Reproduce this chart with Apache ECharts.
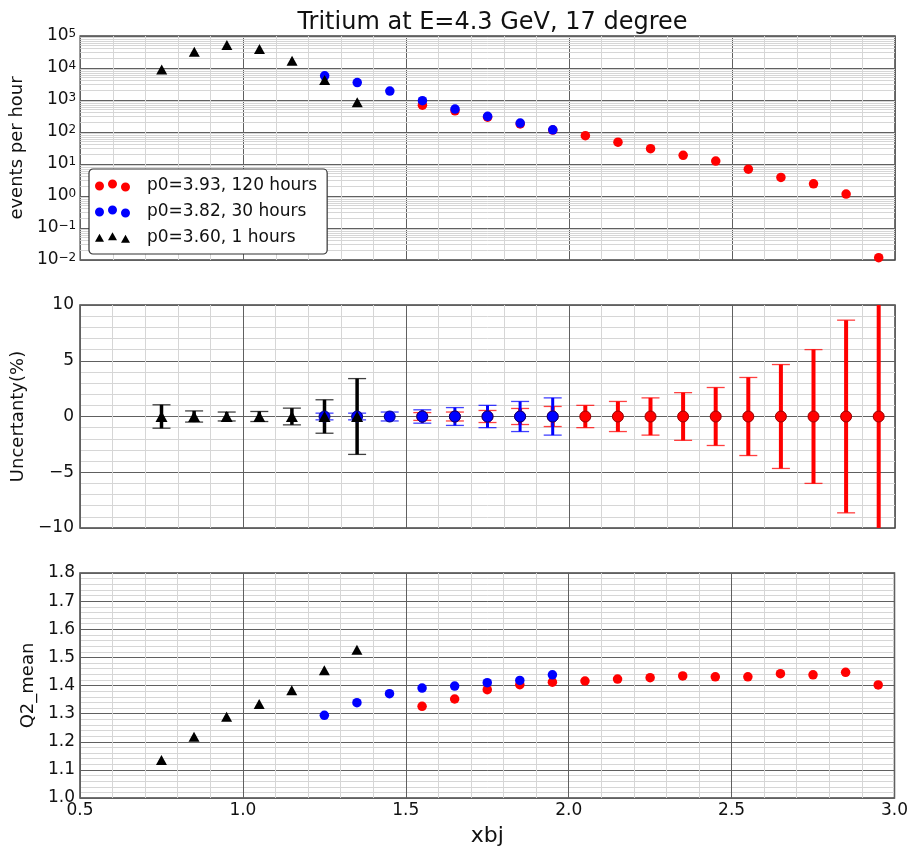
<!DOCTYPE html>
<html>
<head>
<meta charset="utf-8">
<script src="https://cdn.jsdelivr.net/npm/echarts@6/dist/echarts.min.js"></script>
<style>
html, body { margin: 0; padding: 0; background: #fff; }
#chart { width: 911px; height: 851px; }
</style>
</head>
<body>
<div id="chart"></div>
<script>
// xbj bins for each setting
const xBlack = [0.75, 0.85, 0.95, 1.05, 1.15, 1.25, 1.35]
const xBlue = [1.25, 1.35, 1.45, 1.55, 1.65, 1.75, 1.85, 1.95]
const xRed = [1.55, 1.65, 1.75, 1.85, 1.95, 2.05, 2.15, 2.25, 2.35, 2.45, 2.55, 2.65, 2.75, 2.85, 2.95]

// events per hour
const rateBlack = [9000, 32000, 52000, 39000, 17000, 4200, 850]
const rateBlue = [5700, 3500, 1900, 950, 520, 310, 190, 117]
const rateRed = [690, 460, 290, 178, 115, 77, 48, 30, 18.7, 12.3, 6.9, 3.8, 2.4, 1.15, 0.0118]

// relative uncertainty (%)
const errBlack = [1.05, 0.5, 0.4, 0.45, 0.75, 1.5, 3.4]
const errBlue = [0.3, 0.3, 0.4, 0.6, 0.8, 1.0, 1.35, 1.67]
const errRed = [0.35, 0.4, 0.54, 0.72, 0.9, 1.0, 1.35, 1.67, 2.14, 2.6, 3.5, 4.66, 6.0, 8.64, 12]

// mean Q2
const q2Black = [1.135, 1.218, 1.289, 1.334, 1.383, 1.454, 1.527]
const q2Blue = [1.294, 1.339, 1.371, 1.391, 1.398, 1.41, 1.418, 1.438]
const q2Red = [1.326, 1.352, 1.385, 1.403, 1.412, 1.416, 1.423, 1.428, 1.434, 1.431, 1.431, 1.442, 1.438, 1.447, 1.402]

const names = ['p0=3.93, 120 hours', 'p0=3.82, 30 hours', 'p0=3.60, 1 hours']
const RED = '#ff0000'
const BLUE = '#0000ff'
const BLACK = '#000000'
const FONT = 'DejaVu Sans'

const zip = (xs, ys) => xs.map((x, i) => [x, ys[i]])

// matplotlib-like log minor gridlines (2..9 per decade)
const logMinor = []
for (let e = -2; e < 5; e++) {
  for (let k = 2; k <= 9; k++) logMinor.push(k * Math.pow(10, e))
}

const chart = echarts.init(document.getElementById('chart'))

const majorLine = { show: true, lineStyle: { color: '#606060', width: 1 } }
const minorLine = { show: true, lineStyle: { color: '#d6d6d6', width: 1 } }
const labelStyle = { fontFamily: FONT, fontSize: 17, color: '#111' }
const nameStyle = { fontFamily: FONT, fontSize: 18, color: '#111' }

const makeX = (idx, showLabel) => ({
  type: 'value',
  gridIndex: idx,
  min: 0.5,
  max: 3.0,
  interval: 0.5,
  axisLine: { show: false },
  axisTick: { show: false },
  splitLine: majorLine,
  minorTick: { show: false, splitNumber: 5 },
  minorSplitLine: minorLine,
  axisLabel: {
    show: showLabel,
    ...labelStyle,
    margin: 4,
    formatter: v => v.toFixed(1)
  },
  name: showLabel ? 'xbj' : '',
  nameLocation: 'middle',
  nameGap: 27,
  nameTextStyle: { fontFamily: FONT, fontSize: 22, color: '#111' }
})

const circ3 = 'path://M0,7a4.5,4.5 0 1,0 9,0a4.5,4.5 0 1,0 -9,0M13,5a4.5,4.5 0 1,0 9,0a4.5,4.5 0 1,0 -9,0M26,8a4.5,4.5 0 1,0 9,0a4.5,4.5 0 1,0 -9,0'
const tri3 = 'path://M0,12L4.5,4L9,12ZM13,10.5L17.5,2.5L22,10.5ZM26,13L30.5,5L35,13Z'

function errorBars(color, width) {
  return function (params, api) {
    const x = api.value(0)
    const err = api.value(1)
    const hi = api.coord([x, err])
    const lo = api.coord([x, -err])
    const cap = 9
    return {
      type: 'group',
      children: [
        { type: 'line', shape: { x1: hi[0], y1: hi[1], x2: lo[0], y2: lo[1] }, style: { stroke: color, lineWidth: width } },
        { type: 'line', shape: { x1: hi[0] - cap, y1: hi[1], x2: hi[0] + cap, y2: hi[1] }, style: { stroke: color, lineWidth: 1.3, opacity: 0.75 } },
        { type: 'line', shape: { x1: lo[0] - cap, y1: lo[1], x2: lo[0] + cap, y2: lo[1] }, style: { stroke: color, lineWidth: 1.3, opacity: 0.75 } }
      ]
    }
  }
}

const zeros = xs => xs.map(x => [x, 0])

const dot = (color, extra) => ({ color, opacity: 1, ...(extra || {}) })

const option = {
  animation: false,
  backgroundColor: '#fff',
  title: {
    text: 'Tritium at E=4.3 GeV, 17 degree',
    left: 487.5,
    textAlign: 'center',
    top: 6,
    textStyle: { fontFamily: FONT, fontSize: 24, fontWeight: 'normal', color: '#111' }
  },
  legend: {
    orient: 'vertical',
    left: 89,
    top: 169,
    padding: [8, 10, 8, 6],
    itemGap: 9,
    itemWidth: 35,
    itemHeight: 12,
    borderColor: '#333',
    borderWidth: 1.2,
    borderRadius: 4,
    backgroundColor: '#fff',
    textStyle: { fontFamily: FONT, fontSize: 17, color: '#111', padding: [0, 0, 0, 12] },
    data: [
      { name: names[0], icon: circ3 },
      { name: names[1], icon: circ3 },
      { name: names[2], icon: tri3 }
    ]
  },
  grid: [
    { left: 80, right: 16, top: 36, height: 224, show: true, borderColor: '#444', borderWidth: 1.5 },
    { left: 80, right: 16, top: 305, height: 223, show: true, borderColor: '#444', borderWidth: 1.5 },
    { left: 80, right: 16, top: 573, height: 225, show: true, borderColor: '#444', borderWidth: 1.5 }
  ],
  xAxis: [makeX(0, false), makeX(1, false), makeX(2, true)],
  yAxis: [
    {
      type: 'log',
      logBase: 10,
      gridIndex: 0,
      min: 0.01,
      max: 100000,
      splitNumber: 7,
      axisLine: { show: false },
      axisTick: { show: false },
      splitLine: majorLine,
      axisLabel: {
        margin: 4,
        formatter: v => {
          const e = Math.round(Math.log10(v))
          return '{b|10}{s|' + String(e).replace('-', '−') + '}'
        },
        rich: {
          b: { fontFamily: FONT, fontSize: 17, color: '#111', lineHeight: 17, padding: [6, 0, 0, 0], verticalAlign: 'bottom' },
          s: { fontFamily: FONT, fontSize: 12, color: '#111', lineHeight: 12, verticalAlign: 'top' }
        }
      },
      name: 'events per hour',
      nameLocation: 'middle',
      nameGap: 47,
      nameTextStyle: nameStyle
    },
    {
      type: 'value',
      gridIndex: 1,
      min: -10,
      max: 10,
      interval: 5,
      axisLine: { show: false },
      axisTick: { show: false },
      splitLine: majorLine,
      minorTick: { show: false, splitNumber: 5 },
      minorSplitLine: minorLine,
      axisLabel: { ...labelStyle, margin: 6, formatter: v => String(v).replace('-', '−') },
      name: 'Uncertanty(%)',
      nameLocation: 'middle',
      nameGap: 47,
      nameTextStyle: nameStyle
    },
    {
      type: 'value',
      gridIndex: 2,
      min: 1.0,
      max: 1.8,
      interval: 0.1,
      axisLine: { show: false },
      axisTick: { show: false },
      splitLine: majorLine,
      minorTick: { show: false, splitNumber: 5 },
      minorSplitLine: minorLine,
      axisLabel: { ...labelStyle, margin: 5, formatter: v => v.toFixed(1) },
      name: 'Q2_mean',
      nameLocation: 'middle',
      nameGap: 41,
      nameTextStyle: nameStyle
    }
  ],
  series: [
    // top panel: rates
    { name: names[0], type: 'scatter', xAxisIndex: 0, yAxisIndex: 0, symbol: 'circle', symbolSize: 9.5, itemStyle: dot(RED), data: zip(xRed, rateRed) },
    { name: names[1], type: 'scatter', xAxisIndex: 0, yAxisIndex: 0, symbol: 'circle', symbolSize: 9.5, itemStyle: dot(BLUE), data: zip(xBlue, rateBlue) },
    { name: names[2], type: 'scatter', xAxisIndex: 0, yAxisIndex: 0, symbol: 'triangle', symbolSize: [11, 10], itemStyle: dot(BLACK), data: zip(xBlack, rateBlack) },
    {
      type: 'scatter', xAxisIndex: 0, yAxisIndex: 0, data: [], z: 1, silent: true,
      markLine: {
        z: 1, silent: true, symbol: 'none', label: { show: false },
        lineStyle: { color: '#d6d6d6', width: 1, type: 'solid' },
        data: logMinor.map(v => ({ yAxis: v }))
      }
    },
    // middle panel: uncertainties
    { name: names[0], type: 'custom', xAxisIndex: 1, yAxisIndex: 1, clip: true, renderItem: errorBars(RED, 4), data: zip(xRed, errRed) },
    { name: names[0], type: 'scatter', xAxisIndex: 1, yAxisIndex: 1, symbol: 'circle', symbolSize: 11, itemStyle: dot(RED, { borderColor: '#990000', borderWidth: 1 }), data: zeros(xRed) },
    { name: names[1], type: 'custom', xAxisIndex: 1, yAxisIndex: 1, clip: true, renderItem: errorBars(BLUE, 3), data: zip(xBlue, errBlue) },
    { name: names[1], type: 'scatter', xAxisIndex: 1, yAxisIndex: 1, symbol: 'circle', symbolSize: 11, itemStyle: dot(BLUE, { borderColor: '#000080', borderWidth: 1 }), data: zeros(xBlue) },
    { name: names[2], type: 'custom', xAxisIndex: 1, yAxisIndex: 1, clip: true, renderItem: errorBars(BLACK, 3.5), data: zip(xBlack, errBlack) },
    { name: names[2], type: 'scatter', xAxisIndex: 1, yAxisIndex: 1, symbol: 'triangle', symbolSize: [12, 11], itemStyle: dot(BLACK), data: zeros(xBlack) },
    // bottom panel: Q2
    { name: names[0], type: 'scatter', xAxisIndex: 2, yAxisIndex: 2, symbol: 'circle', symbolSize: 9.5, itemStyle: dot(RED), data: zip(xRed, q2Red) },
    { name: names[1], type: 'scatter', xAxisIndex: 2, yAxisIndex: 2, symbol: 'circle', symbolSize: 9.5, itemStyle: dot(BLUE), data: zip(xBlue, q2Blue) },
    { name: names[2], type: 'scatter', xAxisIndex: 2, yAxisIndex: 2, symbol: 'triangle', symbolSize: [11, 10], itemStyle: dot(BLACK), data: zip(xBlack, q2Black) }
  ]
}

chart.setOption(option)
</script>
</body>
</html>
